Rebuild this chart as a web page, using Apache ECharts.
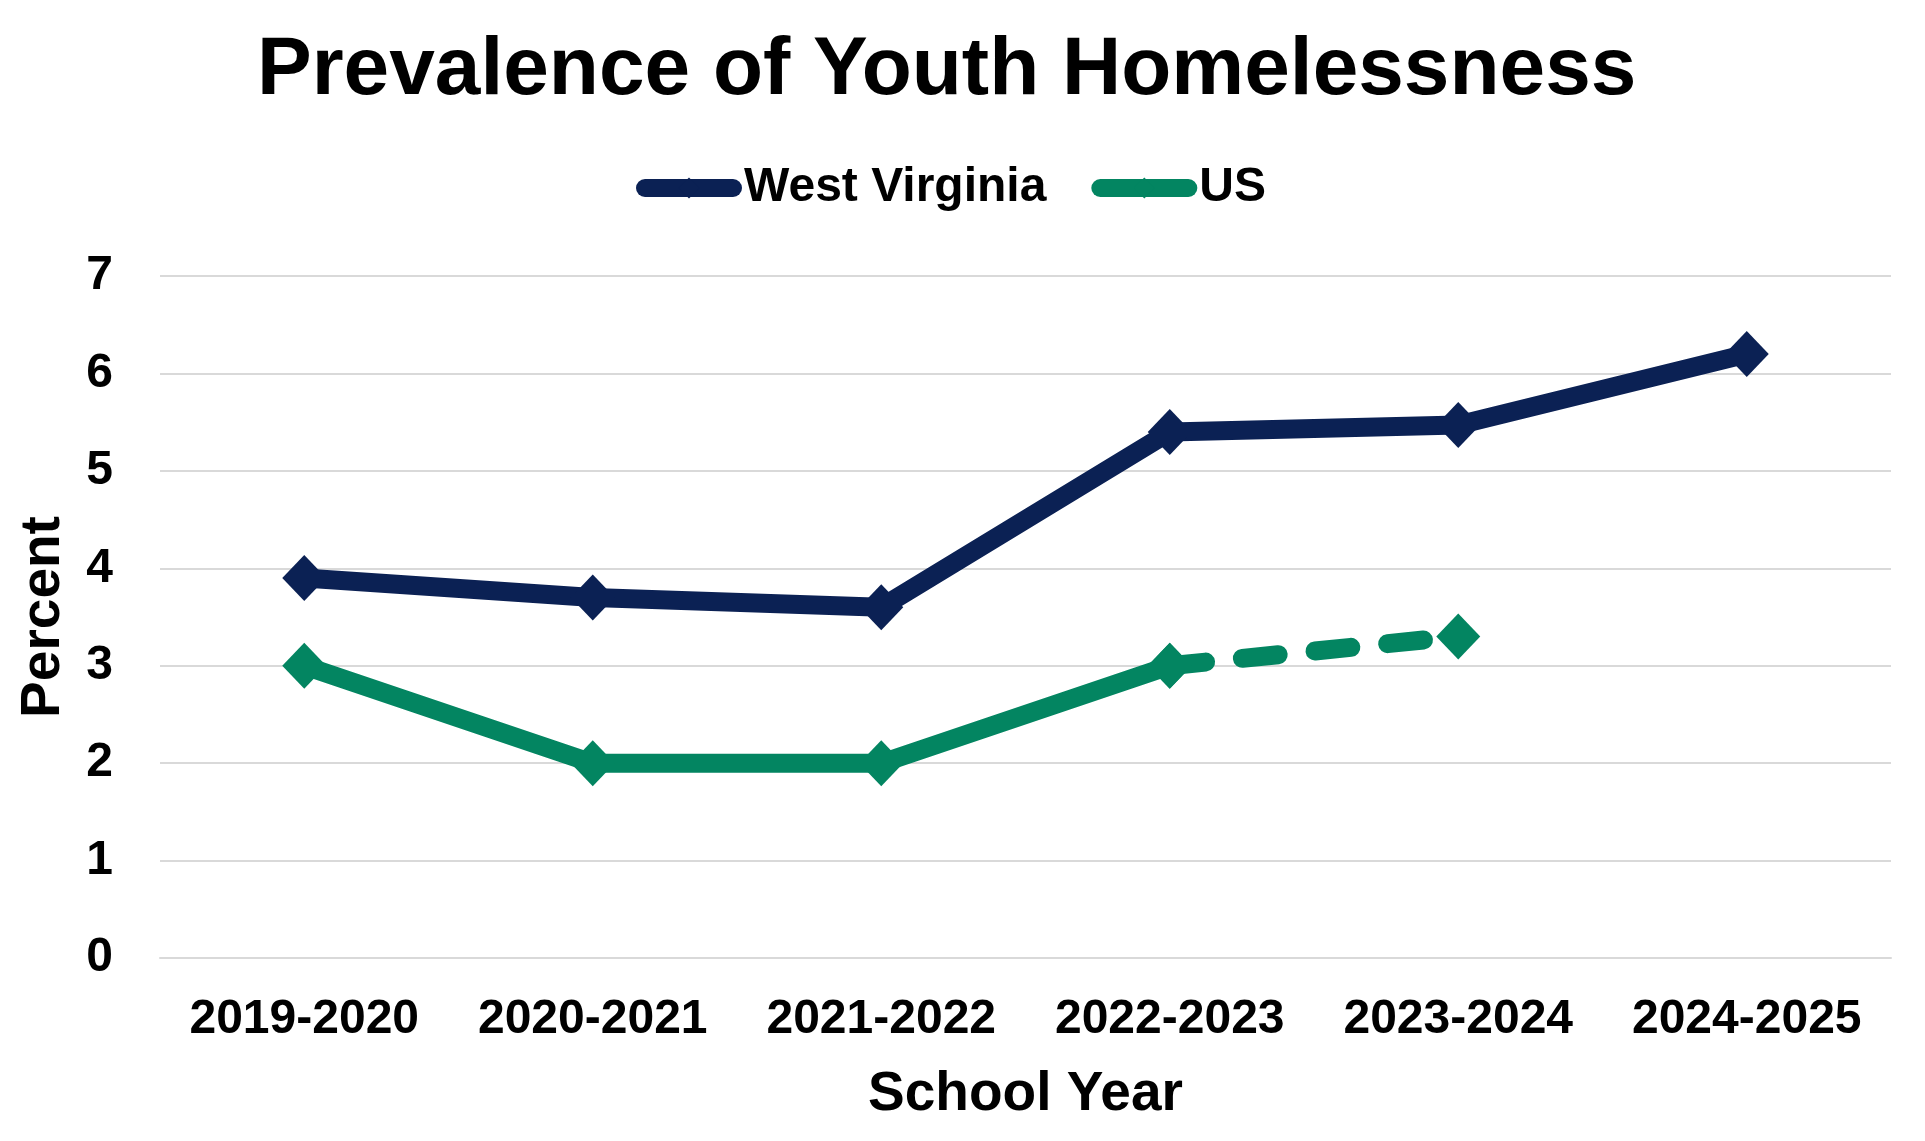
<!DOCTYPE html>
<html>
<head>
<meta charset="utf-8">
<script src="https://cdn.jsdelivr.net/npm/echarts@6/dist/echarts.min.js"></script>
<style>
html,body{margin:0;padding:0;background:#fff;}
#c{width:1925px;height:1141px;}
</style>
</head>
<body>
<div id="c"></div>
<script>
const categories = ['2019-2020','2020-2021','2021-2022','2022-2023','2023-2024','2024-2025'];
const westVirginia = [3.9, 3.7, 3.6, 5.4, 5.47, 6.2];
const usActual = [3.0, 2.0, 2.0, 3.0, null, null];
const usProjected = [null, null, null, 3.0, 3.3, null];
const yTicks = [0, 1, 2, 3, 4, 5, 6, 7];

const NAVY = '#0B2154';
const GREEN = '#038561';
const FONT = 'Liberation Sans, Arial, sans-serif';

const chart = echarts.init(document.getElementById('c'), null, {renderer: 'canvas'});
chart.setOption({
  animation: false,
  backgroundColor: '#ffffff',
  title: {
    text: 'Prevalence of Youth Homelessness',
    left: 252,
    top: 25,
    textStyle: {fontFamily: FONT, fontSize: 82, fontWeight: 'bold', color: '#000'}
  },
  legend: {
    data: ['West Virginia', 'US'],
    left: 631,
    top: 159,
    itemWidth: 88,
    itemHeight: 26,
    itemGap: 45,
    lineStyle: {width: 18, cap: 'round'},
    textStyle: {fontFamily: FONT, fontSize: 48, fontWeight: 'bold', color: '#000', padding: [0, 0, 0, 6]}
  },
  grid: {left: 160, right: 34, top: 276, bottom: 183, containLabel: false},
  xAxis: {
    type: 'category',
    data: categories,
    name: 'School Year',
    nameLocation: 'middle',
    nameGap: 109,
    nameTextStyle: {fontFamily: FONT, fontSize: 55, fontWeight: 'bold', color: '#000'},
    axisLine: {show: true, lineStyle: {color: '#d9d9d9', width: 2}},
    axisTick: {show: false},
    axisLabel: {fontFamily: FONT, fontSize: 48, fontWeight: 'bold', color: '#000', margin: 38, interval: 0}
  },
  yAxis: {
    type: 'value',
    min: yTicks[0],
    max: yTicks[yTicks.length - 1],
    interval: 1,
    name: 'Percent',
    nameLocation: 'middle',
    nameGap: 89,
    nameRotate: 90,
    nameTextStyle: {fontFamily: FONT, fontSize: 55, fontWeight: 'bold', color: '#000'},
    axisLine: {show: false},
    axisTick: {show: false},
    splitLine: {show: true, lineStyle: {color: '#d9d9d9', width: 2}},
    axisLabel: {fontFamily: FONT, fontSize: 48, fontWeight: 'bold', color: '#000', margin: 47}
  },
  series: [
    {
      name: 'US',
      type: 'line',
      data: usActual,
      color: GREEN,
      symbol: 'diamond',
      symbolSize: [44, 46],
      lineStyle: {width: 19, color: GREEN, join: 'round'},
      itemStyle: {color: GREEN},
      connectNulls: false,
      z: 2
    },
    {
      name: 'US projected',
      type: 'line',
      data: usProjected,
      color: GREEN,
      symbol: 'diamond',
      symbolSize: [44, 46],
      lineStyle: {width: 19, color: GREEN, type: [36, 37], cap: 'round'},
      itemStyle: {color: GREEN},
      z: 2
    },
    {
      name: 'West Virginia',
      type: 'line',
      data: westVirginia,
      color: NAVY,
      symbol: 'diamond',
      symbolSize: [44, 46],
      lineStyle: {width: 19, color: NAVY, join: 'round'},
      itemStyle: {color: NAVY},
      z: 3
    }
  ]
});
</script>
</body>
</html>
